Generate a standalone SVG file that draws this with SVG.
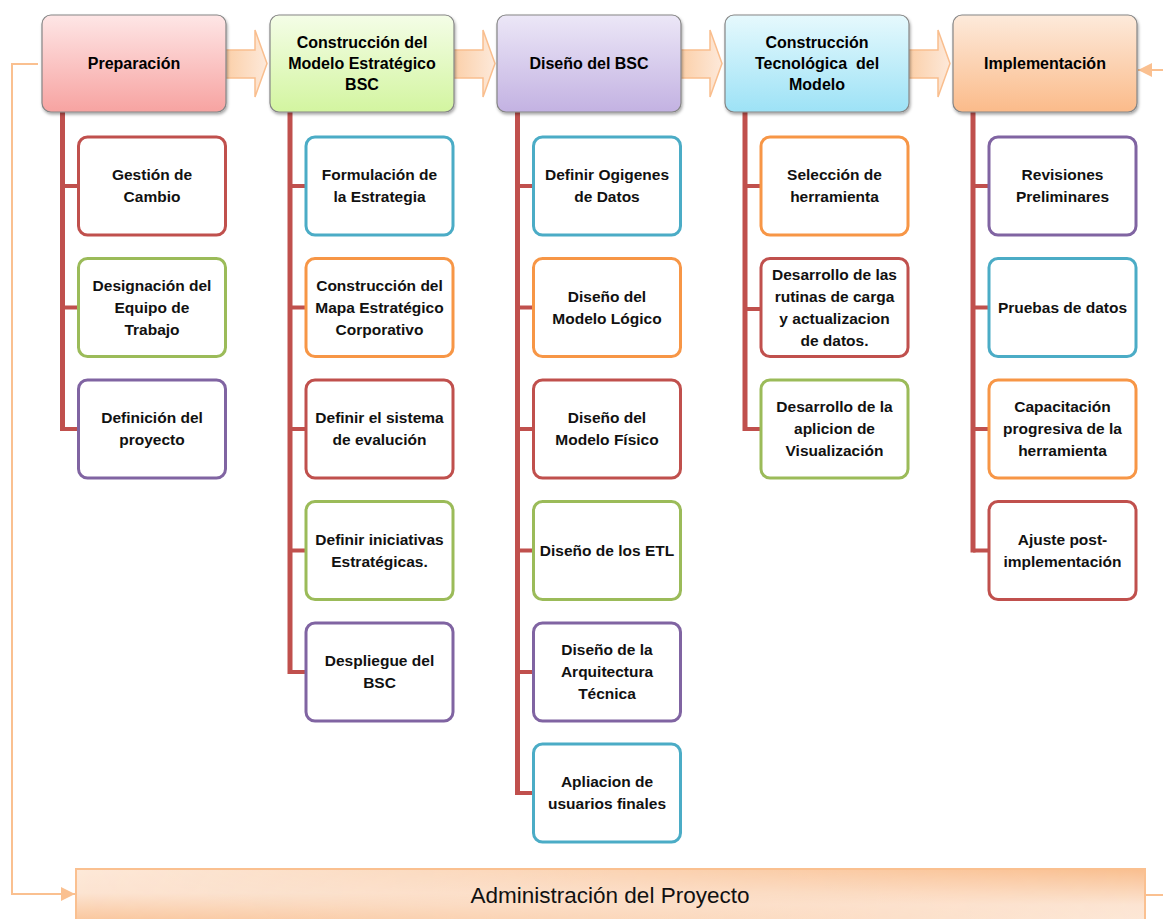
<svg xmlns="http://www.w3.org/2000/svg" width="1163" height="919" viewBox="0 0 1163 919">
  <defs>
    <style>
      .hdr { stroke: #858585; stroke-width: 1.2; filter: url(#shadow); }
      .htxt { font-family: "Liberation Sans", Arial, sans-serif; font-size: 16px; font-weight: bold; fill: #000; text-anchor: middle; }
      .ctxt { font-family: "Liberation Sans", Arial, sans-serif; font-size: 15.5px; font-weight: bold; fill: #111; text-anchor: middle; }
      .child { fill: #ffffff; stroke-width: 3; }
      .red { stroke: #c0504d; }
      .green { stroke: #9bbb59; }
      .purple { stroke: #8064a2; }
      .cyan { stroke: #4bacc6; }
      .orange { stroke: #f79646; }
      .spine { stroke: #c0504d; stroke-width: 5; fill: none; }
      .tick { stroke: #c0504d; stroke-width: 4; fill: none; }
      .flow { fill: url(#gArrow); stroke: #f9be8e; stroke-width: 1.5; }
      .loop { stroke: #fac090; stroke-width: 2; fill: none; }
      .btxt { font-family: "Liberation Sans", Arial, sans-serif; font-size: 22.5px; fill: #111; text-anchor: middle; }
    </style>
    <filter id="shadow" x="-10%" y="-10%" width="125%" height="130%">
      <feDropShadow dx="1" dy="2" stdDeviation="1.5" flood-color="#000" flood-opacity="0.35"/>
    </filter>
    <linearGradient id="gPink" x1="0" y1="0" x2="0" y2="1">
      <stop offset="0" stop-color="#fee6e6"/>
      <stop offset="1" stop-color="#f7a3a1"/>
    </linearGradient>
    <linearGradient id="gGreen" x1="0" y1="0" x2="0" y2="1">
      <stop offset="0" stop-color="#f4fde7"/>
      <stop offset="1" stop-color="#d3f5a0"/>
    </linearGradient>
    <linearGradient id="gPurple" x1="0" y1="0" x2="0" y2="1">
      <stop offset="0" stop-color="#ece7f7"/>
      <stop offset="1" stop-color="#c3b2e2"/>
    </linearGradient>
    <linearGradient id="gCyan" x1="0" y1="0" x2="0" y2="1">
      <stop offset="0" stop-color="#e6f9fd"/>
      <stop offset="1" stop-color="#9de2f6"/>
    </linearGradient>
    <linearGradient id="gOrange" x1="0" y1="0" x2="0" y2="1">
      <stop offset="0" stop-color="#fdeadb"/>
      <stop offset="1" stop-color="#fbbb8a"/>
    </linearGradient>
    <linearGradient id="gArrow" x1="0" y1="0" x2="1" y2="0">
      <stop offset="0" stop-color="#fbcda4"/>
      <stop offset="1" stop-color="#fde9da"/>
    </linearGradient>
    <linearGradient id="gBarDown" x1="0" y1="0" x2="0" y2="1">
      <stop offset="0" stop-color="#fde9d9"/>
      <stop offset="0.4" stop-color="#fce4d2"/>
      <stop offset="1" stop-color="#f9bd8c"/>
    </linearGradient>
    <linearGradient id="gBarUp" x1="0" y1="0" x2="0" y2="1">
      <stop offset="0" stop-color="#f9bf90"/>
      <stop offset="0.6" stop-color="#fce4d2"/>
      <stop offset="1" stop-color="#fde9d9"/>
    </linearGradient>
    <linearGradient id="gFade" x1="0" y1="0" x2="1" y2="0">
      <stop offset="0" stop-color="#000"/>
      <stop offset="1" stop-color="#fff"/>
    </linearGradient>
    <mask id="mFade" maskUnits="userSpaceOnUse" x="0" y="0" width="1163" height="919">
      <rect x="76" y="869" width="1069" height="60" fill="url(#gFade)"/>
    </mask>
    <marker id="arrowHead" viewBox="0 0 10 10" refX="10" refY="5" markerWidth="7" markerHeight="7" markerUnits="strokeWidth" orient="auto">
      <path d="M0,0 L10,5 L0,10 Z" fill="#fac090"/>
    </marker>
  </defs>

  <rect width="1163" height="919" fill="#ffffff"/>

  <!-- connectors: phase flow arrows, hierarchy spines and the management loop -->
  <g id="connectors">
    <path class="flow" d="M222,50 L255,50 L255,30 L267,63.5 L255,97 L255,78 L222,78 Z"/>
    <path class="flow" d="M450,50 L483,50 L483,30 L495,63.5 L483,97 L483,78 L450,78 Z"/>
    <path class="flow" d="M677,50 L710,50 L710,30 L722,63.5 L710,97 L710,78 L677,78 Z"/>
    <path class="flow" d="M905,50 L938,50 L938,30 L950,63.5 L938,97 L938,78 L905,78 Z"/>

    <!-- column 1 -->
    <path class="spine" d="M62.5,112 V431"/>
    <path class="tick" d="M62.5,186 H78.5 M62.5,307.5 H78.5 M62.5,429 H78.5"/>
    <!-- column 2 -->
    <path class="spine" d="M290,112 V674"/>
    <path class="tick" d="M290,186 H306 M290,307.5 H306 M290,429 H306 M290,550.5 H306 M290,672 H306"/>
    <!-- column 3 -->
    <path class="spine" d="M517.5,112 V795"/>
    <path class="tick" d="M517.5,186 H533.5 M517.5,307.5 H533.5 M517.5,429 H533.5 M517.5,550.5 H533.5 M517.5,672 H533.5 M517.5,793 H533.5"/>
    <!-- column 4 -->
    <path class="spine" d="M745,112 V431"/>
    <path class="tick" d="M745,186 H761 M745,309 H761 M745,429 H761"/>
    <!-- column 5 -->
    <path class="spine" d="M973,112 V552.5"/>
    <path class="tick" d="M973,186 H989 M973,307.5 H989 M973,429 H989 M973,550.5 H989"/>

    <!-- management loop -->
    <path class="loop" d="M38,64 H12 V894 H75" marker-end="url(#arrowHead)"/>
    <path class="loop" d="M1163,70 H1138" marker-end="url(#arrowHead)"/>
    <path class="loop" d="M1146,895 H1163"/>
  </g>

  <!-- phase headers -->
  <g id="phase-preparacion">
    <rect class="hdr" x="42" y="15" width="184" height="97" rx="9" fill="url(#gPink)"/>
    <text class="htxt" x="134" y="69">Preparación</text>
  </g>
  <g id="phase-modelo-estrategico">
    <rect class="hdr" x="270" y="15" width="184" height="97" rx="9" fill="url(#gGreen)"/>
    <text class="htxt" x="362" y="48">Construcción del</text>
    <text class="htxt" x="362" y="69">Modelo Estratégico</text>
    <text class="htxt" x="362" y="90">BSC</text>
  </g>
  <g id="phase-diseno-bsc">
    <rect class="hdr" x="497" y="15" width="184" height="97" rx="9" fill="url(#gPurple)"/>
    <text class="htxt" x="589" y="69">Diseño del BSC</text>
  </g>
  <g id="phase-construccion-tecnologica">
    <rect class="hdr" x="725" y="15" width="184" height="97" rx="9" fill="url(#gCyan)"/>
    <text class="htxt" x="817" y="48">Construcción</text>
    <text class="htxt" x="817" y="69">Tecnológica&#160; del</text>
    <text class="htxt" x="817" y="90">Modelo</text>
  </g>
  <g id="phase-implementacion">
    <rect class="hdr" x="953" y="15" width="184" height="97" rx="9" fill="url(#gOrange)"/>
    <text class="htxt" x="1045" y="69">Implementación</text>
  </g>

  <!-- column 1 tasks -->
  <g id="task-gestion-cambio">
    <rect class="child red" x="78.5" y="137" width="147" height="98" rx="9"/>
    <text class="ctxt" x="152" y="180">Gestión de</text>
    <text class="ctxt" x="152" y="202">Cambio</text>
  </g>
  <g id="task-equipo-trabajo">
    <rect class="child green" x="78.5" y="258.5" width="147" height="98" rx="9"/>
    <text class="ctxt" x="152" y="290.5">Designación del</text>
    <text class="ctxt" x="152" y="312.5">Equipo de</text>
    <text class="ctxt" x="152" y="334.5">Trabajo</text>
  </g>
  <g id="task-definicion-proyecto">
    <rect class="child purple" x="78.5" y="380" width="147" height="98" rx="9"/>
    <text class="ctxt" x="152" y="423">Definición del</text>
    <text class="ctxt" x="152" y="445">proyecto</text>
  </g>

  <!-- column 2 tasks -->
  <g id="task-formulacion-estrategia">
    <rect class="child cyan" x="306" y="137" width="147" height="98" rx="9"/>
    <text class="ctxt" x="379.5" y="180">Formulación de</text>
    <text class="ctxt" x="379.5" y="202">la Estrategia</text>
  </g>
  <g id="task-mapa-estrategico">
    <rect class="child orange" x="306" y="258.5" width="147" height="98" rx="9"/>
    <text class="ctxt" x="379.5" y="290.5">Construcción del</text>
    <text class="ctxt" x="379.5" y="312.5">Mapa Estratégico</text>
    <text class="ctxt" x="379.5" y="334.5">Corporativo</text>
  </g>
  <g id="task-sistema-evaluacion">
    <rect class="child red" x="306" y="380" width="147" height="98" rx="9"/>
    <text class="ctxt" x="379.5" y="423">Definir el sistema</text>
    <text class="ctxt" x="379.5" y="445">de evalución</text>
  </g>
  <g id="task-iniciativas">
    <rect class="child green" x="306" y="501.5" width="147" height="98" rx="9"/>
    <text class="ctxt" x="379.5" y="544.5">Definir iniciativas</text>
    <text class="ctxt" x="379.5" y="566.5">Estratégicas.</text>
  </g>
  <g id="task-despliegue">
    <rect class="child purple" x="306" y="623" width="147" height="98" rx="9"/>
    <text class="ctxt" x="379.5" y="666">Despliegue del</text>
    <text class="ctxt" x="379.5" y="688">BSC</text>
  </g>

  <!-- column 3 tasks -->
  <g id="task-origenes-datos">
    <rect class="child cyan" x="533.5" y="137" width="147" height="98" rx="9"/>
    <text class="ctxt" x="607" y="180">Definir Ogigenes</text>
    <text class="ctxt" x="607" y="202">de Datos</text>
  </g>
  <g id="task-modelo-logico">
    <rect class="child orange" x="533.5" y="258.5" width="147" height="98" rx="9"/>
    <text class="ctxt" x="607" y="301.5">Diseño del</text>
    <text class="ctxt" x="607" y="323.5">Modelo Lógico</text>
  </g>
  <g id="task-modelo-fisico">
    <rect class="child red" x="533.5" y="380" width="147" height="98" rx="9"/>
    <text class="ctxt" x="607" y="423">Diseño del</text>
    <text class="ctxt" x="607" y="445">Modelo Físico</text>
  </g>
  <g id="task-etl">
    <rect class="child green" x="533.5" y="501.5" width="147" height="98" rx="9"/>
    <text class="ctxt" x="607" y="555.5">Diseño de los ETL</text>
  </g>
  <g id="task-arquitectura">
    <rect class="child purple" x="533.5" y="623" width="147" height="98" rx="9"/>
    <text class="ctxt" x="607" y="655">Diseño de la</text>
    <text class="ctxt" x="607" y="677">Arquitectura</text>
    <text class="ctxt" x="607" y="699">Técnica</text>
  </g>
  <g id="task-usuarios-finales">
    <rect class="child cyan" x="533.5" y="744" width="147" height="98" rx="9"/>
    <text class="ctxt" x="607" y="787">Apliacion de</text>
    <text class="ctxt" x="607" y="809">usuarios finales</text>
  </g>

  <!-- column 4 tasks -->
  <g id="task-seleccion-herramienta">
    <rect class="child orange" x="761" y="137" width="147" height="98" rx="9"/>
    <text class="ctxt" x="834.5" y="180">Selección de</text>
    <text class="ctxt" x="834.5" y="202">herramienta</text>
  </g>
  <g id="task-rutinas-carga">
    <rect class="child red" x="761" y="258.5" width="147" height="98" rx="9"/>
    <text class="ctxt" x="834.5" y="279.5">Desarrollo de las</text>
    <text class="ctxt" x="834.5" y="301.5">rutinas de carga</text>
    <text class="ctxt" x="834.5" y="323.5">y actualizacion</text>
    <text class="ctxt" x="834.5" y="345.5">de datos.</text>
  </g>
  <g id="task-visualizacion">
    <rect class="child green" x="761" y="380" width="147" height="98" rx="9"/>
    <text class="ctxt" x="834.5" y="412">Desarrollo de la</text>
    <text class="ctxt" x="834.5" y="434">aplicion de</text>
    <text class="ctxt" x="834.5" y="456">Visualización</text>
  </g>

  <!-- column 5 tasks -->
  <g id="task-revisiones">
    <rect class="child purple" x="989" y="137" width="147" height="98" rx="9"/>
    <text class="ctxt" x="1062.5" y="180">Revisiones</text>
    <text class="ctxt" x="1062.5" y="202">Preliminares</text>
  </g>
  <g id="task-pruebas-datos">
    <rect class="child cyan" x="989" y="258.5" width="147" height="98" rx="9"/>
    <text class="ctxt" x="1062.5" y="312.5">Pruebas de datos</text>
  </g>
  <g id="task-capacitacion">
    <rect class="child orange" x="989" y="380" width="147" height="98" rx="9"/>
    <text class="ctxt" x="1062.5" y="412">Capacitación</text>
    <text class="ctxt" x="1062.5" y="434">progresiva de la</text>
    <text class="ctxt" x="1062.5" y="456">herramienta</text>
  </g>
  <g id="task-ajuste">
    <rect class="child red" x="989" y="501.5" width="147" height="98" rx="9"/>
    <text class="ctxt" x="1062.5" y="544.5">Ajuste post-</text>
    <text class="ctxt" x="1062.5" y="566.5">implementación</text>
  </g>

  <!-- project management bar -->
  <g id="administracion-proyecto">
    <rect x="76" y="869" width="1069" height="60" fill="url(#gBarDown)" stroke="#fac090" stroke-width="2"/>
    <rect x="77" y="870" width="1067" height="58" fill="url(#gBarUp)" mask="url(#mFade)"/>
    <text class="btxt" x="610" y="903">Administración del Proyecto</text>
  </g>
</svg>
